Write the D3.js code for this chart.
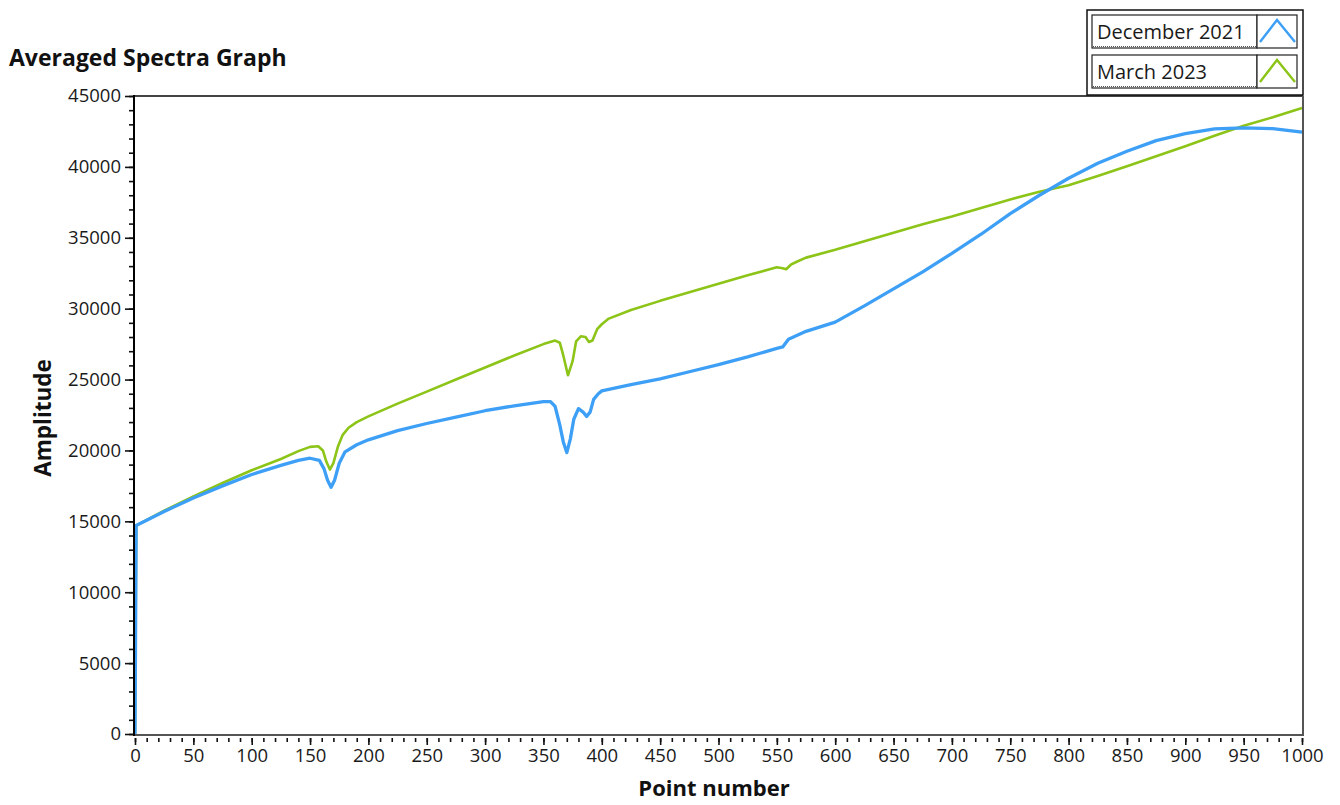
<!DOCTYPE html>
<html>
<head>
<meta charset="utf-8">
<script src="https://cdn.jsdelivr.net/npm/d3@7"></script>
<style>
  html, body { margin: 0; padding: 0; background: #fff; }
  svg { display: block; font-family: "Open Sans", "Noto Sans", sans-serif; }
</style>
</head>
<body>
<svg id="chart" width="1340" height="805"></svg>
<script>
// ---- Data ----
const seriesNames = ["December 2021", "March 2023"];

const decX = [0, 1, 25, 50, 75, 100, 125, 140, 150, 158, 162, 165, 168, 171, 175, 180, 190, 200, 225, 250, 275, 300, 325, 350, 356, 360, 364, 367, 370, 373, 376, 380, 384, 387, 390, 393, 397, 400, 425, 450, 475, 500, 525, 550, 555, 560, 575, 600, 625, 650, 675, 700, 725, 750, 775, 800, 825, 850, 875, 900, 925, 950, 975, 1000];
const decY = [0, 14700, 15700, 16650, 17500, 18300, 18950, 19300, 19450, 19300, 18700, 17900, 17400, 17900, 19100, 19900, 20400, 20750, 21400, 21900, 22350, 22800, 23150, 23450, 23450, 23100, 21800, 20600, 19850, 20800, 22200, 22950, 22700, 22400, 22700, 23600, 24000, 24200, 24650, 25050, 25550, 26050, 26600, 27200, 27300, 27850, 28400, 29050, 30200, 31400, 32600, 33900, 35250, 36700, 38000, 39200, 40250, 41100, 41850, 42350, 42680, 42750, 42700, 42450];

const marX = [0, 1, 25, 50, 75, 100, 125, 140, 150, 157, 161, 164, 167, 170, 174, 178, 183, 190, 200, 225, 250, 275, 300, 325, 350, 360, 364, 367, 371, 375, 378, 382, 386, 389, 392, 396, 400, 406, 425, 450, 475, 500, 525, 550, 555, 558, 562, 567, 575, 600, 625, 650, 675, 700, 725, 750, 775, 800, 825, 850, 875, 900, 925, 950, 975, 1000];
const marY = [0, 14700, 15750, 16750, 17700, 18600, 19400, 19950, 20250, 20300, 20000, 19200, 18650, 19100, 20300, 21100, 21600, 22000, 22400, 23300, 24150, 25000, 25850, 26700, 27500, 27750, 27600, 26700, 25300, 26300, 27700, 28050, 28000, 27650, 27750, 28550, 28900, 29300, 29900, 30550, 31150, 31750, 32350, 32920, 32850, 32780, 33100, 33310, 33600, 34150, 34750, 35350, 35950, 36500, 37100, 37700, 38250, 38700, 39350, 40050, 40750, 41450, 42200, 42900, 43500, 44150];

const xTickLabels = d3.range(0, 1001, 50);
const yTickLabels = d3.range(0, 45001, 5000);
const colors = ["#3d9ff5", "#8cc418"];

// ---- Layout ----
const svg = d3.select("#chart");
const L = 135, R = 1302, T = 96, B = 734;
const x = d3.scaleLinear().domain([0, 1000]).range([L, R]);
const y = d3.scaleLinear().domain([0, 45000]).range([B, T]);

// Title
svg.append("text").attr("x", 9).attr("y", 66)
  .attr("font-size", 23).attr("font-weight", 700).attr("fill", "#111")
  .text("Averaged Spectra Graph");

// Lines
const line = d3.line().x(d => x(d[0])).y(d => y(d[1]));
const datasets = [d3.zip(decX, decY), d3.zip(marX, marY)];
const g = svg.append("g");
g.append("path").datum(datasets[1]).attr("d", line)
  .attr("fill", "none").attr("stroke", colors[1]).attr("stroke-width", 2.6).attr("stroke-linejoin", "round");
g.append("path").datum(datasets[0]).attr("d", line)
  .attr("fill", "none").attr("stroke", colors[0]).attr("stroke-width", 3.3).attr("stroke-linejoin", "round");

// Frame (top & right gray, bottom gray, left black)
svg.append("line").attr("x1", L).attr("x2", R + 1).attr("y1", T).attr("y2", T).attr("stroke", "#444").attr("stroke-width", 2);
svg.append("line").attr("x1", R + 1).attr("x2", R + 1).attr("y1", T).attr("y2", B + 1).attr("stroke", "#555").attr("stroke-width", 2);
svg.append("line").attr("x1", L - 1).attr("x2", R + 2).attr("y1", B + 1).attr("y2", B + 1).attr("stroke", "#555").attr("stroke-width", 2);
svg.append("line").attr("x1", L - 1).attr("x2", L - 1).attr("y1", T - 1).attr("y2", B + 2).attr("stroke", "#000").attr("stroke-width", 2);

// Y axis: minor ticks
const yMinor = svg.append("g").attr("transform", `translate(${L - 2},0)`)
  .call(d3.axisLeft(y).tickValues(d3.range(0, 45001, 1000)).tickSize(4).tickFormat(""));
yMinor.select(".domain").remove();
const yMajor = svg.append("g").attr("transform", `translate(${L - 2},0)`)
  .call(d3.axisLeft(y).tickValues(yTickLabels).tickSize(8).tickPadding(4).tickFormat(d3.format("d")));
yMajor.select(".domain").remove();

// X axis
const xMinor = svg.append("g").attr("transform", `translate(0,${B + 4})`)
  .call(d3.axisBottom(x).tickValues(d3.range(0, 1001, 10)).tickSize(4).tickFormat(""));
xMinor.select(".domain").remove();
const xMajor = svg.append("g").attr("transform", `translate(0,${B + 4})`)
  .call(d3.axisBottom(x).tickValues(xTickLabels).tickSize(7).tickPadding(4).tickFormat(d3.format("d")));
xMajor.select(".domain").remove();

svg.selectAll(".tick line").attr("stroke", "#111").attr("stroke-width", 1.6);
svg.selectAll(".tick text").attr("font-size", 18.5).attr("fill", "#1a1a1a")
  .attr("font-family", "'Open Sans', 'Noto Sans', sans-serif");

// Axis titles
svg.append("text").attr("x", 714).attr("y", 796).attr("text-anchor", "middle")
  .attr("font-size", 22).attr("font-weight", 700).attr("fill", "#111").text("Point number");
svg.append("text").attr("transform", "translate(51,418) rotate(-90)").attr("text-anchor", "middle")
  .attr("font-size", 22.5).attr("font-weight", 700).attr("fill", "#111").text("Amplitude");

// Legend
const lg = svg.append("g");
lg.append("rect").attr("x", 1087).attr("y", 10).attr("width", 216).attr("height", 85)
  .attr("fill", "#fff").attr("stroke", "#111").attr("stroke-width", 1.5);
seriesNames.forEach((name, i) => {
  const y0 = 15 + i * 40;
  lg.append("rect").attr("x", 1092).attr("y", y0).attr("width", 165).attr("height", 33)
    .attr("fill", "#fff").attr("stroke", "#222").attr("stroke-width", 1.2);
  lg.append("line").attr("x1", 1093).attr("x2", 1256).attr("y1", y0 + 31.5).attr("y2", y0 + 31.5)
    .attr("stroke", "#555").attr("stroke-width", 1).attr("stroke-dasharray", "1,1");
  lg.append("rect").attr("x", 1257).attr("y", y0).attr("width", 40).attr("height", 33)
    .attr("fill", "#fff").attr("stroke", "#222").attr("stroke-width", 1.2);
  lg.append("text").attr("x", 1097).attr("y", y0 + 24).attr("font-size", 20).attr("fill", "#1a1a1a").text(name);
  lg.append("path").attr("d", `M1260,${y0 + 27} L1277,${y0 + 5} L1295,${y0 + 27}`)
    .attr("fill", "none").attr("stroke", colors[i]).attr("stroke-width", 2.4);
});
</script>
</body>
</html>
